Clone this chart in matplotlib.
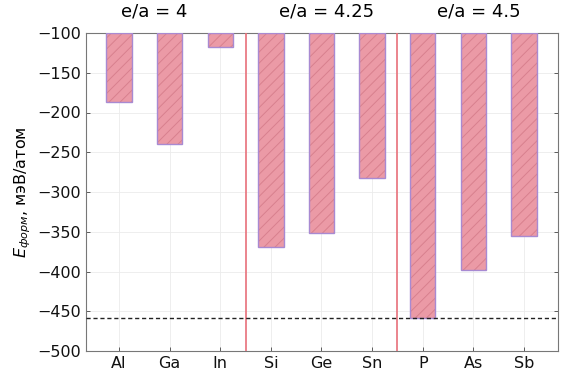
import matplotlib
matplotlib.use("Agg")
import matplotlib.pyplot as plt
import numpy as np

elements = ["Al", "Ga", "In", "Si", "Ge", "Sn", "P", "As", "Sb"]
energies = [-187, -240, -117, -369, -352, -283, -459, -398, -355]
group_labels = ["e/a = 4", "e/a = 4.25", "e/a = 4.5"]
group_label_x = [0.7, 4.1, 7.1]
separators = [2.5, 5.5]
reference_level = -459

plt.rcParams['hatch.linewidth'] = 0.7
plt.rcParams['hatch.color'] = '#d8808e'

fig = plt.figure(figsize=(5.85, 3.82), dpi=100)
ax = fig.add_axes([86/585, 1 - 351/382, (558-86)/585, (351-33)/382])

x = np.arange(len(elements))
base = -100
heights = [e - base for e in energies]
ax.bar(x, heights, bottom=base, width=0.5,
       facecolor='#eb9aa6', edgecolor='#d8808e', linewidth=0.01, hatch='///', zorder=3)
ax.bar(x, heights, bottom=base, width=0.5,
       fill=False, edgecolor='#a88ad2', linewidth=1.0, zorder=3.5)

for s in separators:
    ax.axvline(s, color='#e8707a', linewidth=1.2, zorder=4)
ax.axhline(reference_level, color='#222222', linestyle='--', linewidth=1.0, dashes=(3, 2), zorder=5)

ax.set_xlim(-0.65, 8.67)
ax.set_ylim(-500, -100)
ax.set_xticks(x)
ax.set_xticklabels(elements)
ax.set_yticks(np.arange(-500, -99, 50))
ax.grid(True, color='#ebebeb', linewidth=0.6, zorder=0)
ax.tick_params(direction='in', top=True, right=True, length=3, width=0.6,
               labelsize=11.5, colors='#444444', labelcolor='#111111')
for sp in ax.spines.values():
    sp.set_color('#777777')
    sp.set_linewidth(0.8)

ax.set_ylabel("$E_{форм}$, мэВ/атом", fontsize=11.5, labelpad=3)

for lx, lab in zip(group_label_x, group_labels):
    ax.text(lx, 1.04, lab, transform=ax.get_xaxis_transform(), ha='center', va='bottom',
            fontsize=13)

fig.savefig("out.png", dpi=100)
